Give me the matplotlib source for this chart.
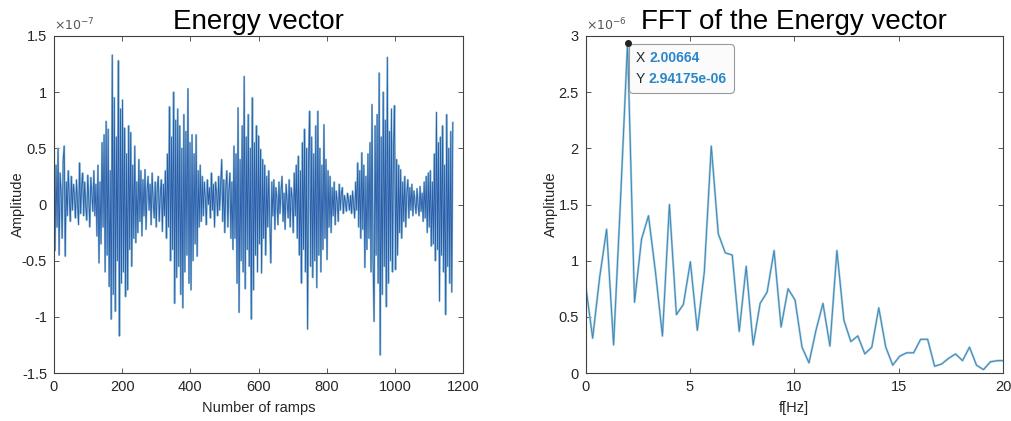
import numpy as np
import matplotlib
matplotlib.use('Agg')
import matplotlib.pyplot as plt
from matplotlib.offsetbox import TextArea, HPacker, VPacker, AnnotationBbox

plt.rcParams['font.family'] = ['Liberation Sans', 'DejaVu Sans']
plt.rcParams['axes.unicode_minus'] = False

# energy vector, one value every 3 ramps, in units of 1e-7
ramp_step = 3
energy = [
    0.62, -0.41, 0.35, -0.20, 0.50, -0.45, 0.28, 0.10, -0.30, 0.40,
    0.52, -0.46, 0.20, -0.10, 0.30, 0.05, -0.15, 0.25, -0.05, 0.18,
    0.08, -0.12, 0.22, 0.02, -0.18, 0.37, -0.08, 0.15, 0.28, -0.10,
    0.20, 0.00, -0.14, 0.26, 0.05, -0.20, 0.24, 0.10, -0.06, 0.30,
    -0.10, 0.18, -0.28, 0.35, -0.52, 0.20, -0.35, 0.55, -0.20, 0.62,
    -0.60, 0.74, -0.45, 0.67, -0.73, 0.30, -1.02, 1.33, -0.80, 0.95,
    -0.95, 0.60, -0.50, 1.28, -1.17, 0.85, -0.70, 0.93, -0.60, 0.68,
    -0.82, 0.45, -0.76, 0.70, -0.40, 0.64, -0.55, 0.35, -0.30, 0.52,
    -0.34, 0.20, -0.25, 0.40, -0.15, 0.30, -0.28, 0.22, -0.10, 0.31,
    -0.22, 0.12, 0.25, -0.05, 0.18, -0.18, 0.28, 0.02, -0.12, 0.20,
    -0.20, 0.15, 0.25, -0.15, 0.10, 0.22, -0.24, 0.18, -0.10, 0.30,
    -0.30, 0.45, -0.20, 0.87, -0.50, 0.60, -0.40, 1.00, -0.88, 0.75,
    -0.65, 0.85, -0.55, 0.70, -0.80, 0.50, -0.92, 0.80, -0.60, 0.65,
    -0.45, 1.03, -0.70, 0.55, -0.76, 0.62, -0.50, 0.45, -0.35, 0.62,
    -0.46, 0.30, -0.20, 0.35, -0.15, 0.25, -0.10, 0.20, 0.05, -0.18,
    0.22, 0.00, 0.15, -0.12, 0.28, -0.05, 0.18, -0.20, 0.20, 0.10,
    -0.10, 0.25, -0.05, 0.18, 0.40, -0.15, 0.22, -0.25, 0.15, 0.30,
    -0.20, 0.12, 0.28, -0.30, 0.20, -0.40, 0.52, -0.30, 0.45, -0.70,
    0.86, -0.96, 0.40, -0.50, 0.70, -0.60, 1.14, -0.75, 0.60, -0.40,
    0.80, -0.55, 0.50, -1.02, 0.95, -0.76, 0.55, -0.45, 0.70, -0.60,
    0.61, -0.35, 0.49, -0.61, 0.40, -0.30, 0.35, -0.45, 0.25, -0.20,
    0.30, -0.15, -0.52, 0.20, -0.10, 0.22, -0.22, 0.15, 0.05, -0.18,
    0.20, -0.08, 0.12, 0.25, -0.15, 0.10, -0.22, 0.18, 0.02, -0.12,
    0.22, -0.20, 0.15, 0.05, -0.25, 0.28, -0.10, 0.35, -0.30, 0.43,
    -0.45, 0.30, -0.70, 0.55, -0.40, 0.67, -0.60, 0.50, -1.11, 0.40,
    0.83, -0.55, 0.60, -0.65, 0.45, -0.50, 0.70, -0.74, 0.83, -0.45,
    0.50, -0.60, 0.35, -0.40, 0.71, -0.30, 0.40, -0.49, 0.30, -0.20,
    0.25, -0.25, 0.15, -0.10, 0.20, -0.18, 0.12, 0.02, -0.15, 0.18,
    -0.05, 0.10, 0.15, -0.08, 0.08, 0.02, -0.06, 0.10, 0.04, -0.05,
    0.08, -0.08, 0.12, 0.00, -0.12, 0.20, -0.05, 0.37, -0.20, 0.30,
    -0.30, 0.46, -0.22, 0.35, -0.56, 0.25, -0.40, 0.45, -0.30, 0.55,
    -0.60, 0.89, -0.50, -1.04, 0.70, -0.45, 0.80, -0.70, 1.17, -1.34,
    0.60, -0.80, 1.00, -0.55, 0.75, -0.91, 1.31, -0.70, 0.65, -0.50,
    0.85, -0.60, 0.50, 0.88, -0.58, 0.40, -0.45, 0.35, -0.25, 0.31,
    -0.30, 0.20, -0.15, 0.25, -0.20, 0.10, 0.22, -0.12, 0.15, -0.05,
    0.18, -0.10, 0.12, 0.02, -0.08, 0.14, 0.00, -0.10, 0.16, -0.06,
    0.10, -0.15, 0.20, -0.12, 0.25, -0.25, 0.28, -0.20, 0.30, -0.37,
    0.20, -0.35, 0.45, -0.50, 0.82, -0.40, 0.55, -0.86, 0.60, -0.45,
    0.70, -0.60, 0.35, -0.98, 0.80, -0.55, 0.50, -0.70, 0.65, -0.78,
    0.73,
]

# FFT magnitude, in units of 1e-6, bin spacing from the data tip (peak is bin 6)
peak_freq = 2.00664
peak_amp = 2.94175
fft_amp = [
    0.78, 0.31, 0.85, 1.28, 0.25, 1.55, 2.94, 0.63, 1.19, 1.40,
    0.90, 0.33, 1.50, 0.52, 0.61, 0.99, 0.38, 0.90, 2.02, 1.24,
    1.07, 1.05, 0.37, 0.95, 0.25, 0.62, 0.72, 1.09, 0.41, 0.75,
    0.65, 0.23, 0.09, 0.38, 0.62, 0.24, 1.09, 0.47, 0.28, 0.33,
    0.17, 0.23, 0.58, 0.23, 0.07, 0.15, 0.18, 0.18, 0.30, 0.30,
    0.06, 0.08, 0.13, 0.17, 0.11, 0.23, 0.07, 0.03, 0.10, 0.11,
    0.11,
]

ramps = np.arange(len(energy)) * ramp_step
df = peak_freq / 6
freqs = np.arange(len(fft_amp)) * df

axis_col = '#404040'
text_col = '#262626'


def style_axes(ax):
    for s in ax.spines.values():
        s.set_color(axis_col)
        s.set_linewidth(0.8)
    ax.tick_params(direction='in', top=True, right=True, length=3.5, width=0.6,
                   colors=axis_col, labelcolor=text_col, labelsize=10.5, pad=5)


def fmt(v):
    return '{:g}'.format(v)


fig = plt.figure(figsize=(10.11, 4.21), dpi=100)

ax1 = fig.add_axes([0.0534, 0.114, 0.4046, 0.8005])
# light halo under a darker core, like the blurred screenshot
ax1.plot(ramps, energy, color='#8fc0d6', linewidth=1.4)
ax1.plot(ramps, energy, color='#2a5cab', linewidth=0.6)
ax1.set_xlim(0, 1200)
ax1.set_ylim(-1.5, 1.5)
ax1.set_xticks([0, 200, 400, 600, 800, 1000, 1200])
yt = [-1.5, -1, -0.5, 0, 0.5, 1, 1.5]
ax1.set_yticks(yt)
ax1.set_yticklabels([fmt(v) for v in yt])
style_axes(ax1)
ax1.set_xlabel('Number of ramps', fontsize=10.5, color=text_col, labelpad=5)
ax1.set_ylabel('Amplitude', fontsize=10.5, color=text_col, labelpad=-2)
ax1.set_title('Energy vector', fontsize=20, pad=5)
ax1.text(0.0, 1.008, r'$\times10^{-7}$', transform=ax1.transAxes, fontsize=9,
         color='#555555', ha='left', va='bottom')

ax2 = fig.add_axes([0.5793, 0.114, 0.4128, 0.8005])
ax2.plot(freqs, fft_amp, color='#a3cde0', linewidth=1.6)
ax2.plot(freqs, fft_amp, color='#3f86b6', linewidth=0.7)
ax2.set_xlim(0, 20)
ax2.set_ylim(0, 3)
ax2.set_xticks([0, 5, 10, 15, 20])
yt2 = [0, 0.5, 1, 1.5, 2, 2.5, 3]
ax2.set_yticks(yt2)
ax2.set_yticklabels([fmt(v) for v in yt2])
style_axes(ax2)
ax2.set_xlabel('f[Hz]', fontsize=10.5, color=text_col, labelpad=5)
ax2.set_ylabel('Amplitude', fontsize=10.5, color=text_col, labelpad=0)
ax2.set_title('FFT of the Energy vector', fontsize=20, pad=5)
ax2.text(0.0, 1.008, r'$\times10^{-6}$', transform=ax2.transAxes, fontsize=9,
         color='#555555', ha='left', va='bottom')

# data tip
ax2.plot([peak_freq], [peak_amp], 'o', color='#222222', markersize=4, zorder=5)
tip_val = '#2a86c8'
row_x = HPacker(children=[TextArea('X ', textprops=dict(color=text_col, fontsize=10)),
                          TextArea('{:g}'.format(peak_freq),
                                   textprops=dict(color=tip_val, fontsize=10, fontweight='bold'))],
                align='baseline', pad=0, sep=0)
row_y = HPacker(children=[TextArea('Y ', textprops=dict(color=text_col, fontsize=10)),
                          TextArea('{:g}e-06'.format(peak_amp),
                                   textprops=dict(color=tip_val, fontsize=10, fontweight='bold'))],
                align='baseline', pad=0, sep=0)
tip = VPacker(children=[row_x, row_y], align='left', pad=0, sep=5)
ab = AnnotationBbox(tip, (peak_freq, peak_amp), xycoords='data',
                    xybox=(6, -6), boxcoords='offset points', box_alignment=(0, 1),
                    frameon=True, pad=0.5,
                    bboxprops=dict(boxstyle='round,pad=0.5,rounding_size=0.3',
                                   fc='#fbfbfb', ec='#9a9a9a', lw=0.8))
ax2.add_artist(ab)

fig.savefig('out.png', dpi=100)
